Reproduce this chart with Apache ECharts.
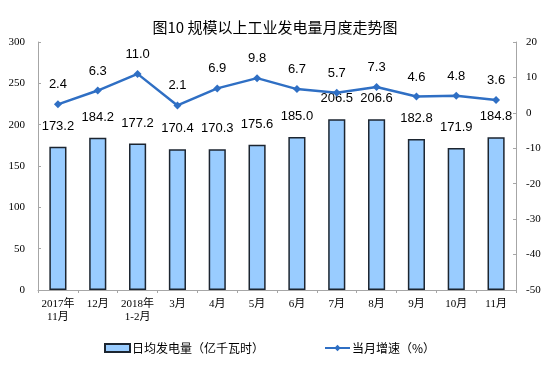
<!DOCTYPE html>
<html><head><meta charset="utf-8">
<script src="https://cdn.jsdelivr.net/npm/echarts@6/dist/echarts.min.js"></script>
<style>html,body{margin:0;padding:0;background:#fff}#c{width:554px;height:381px}</style>
</head><body><div id="c"></div>
<script>
var categories = ['2017年\n11月','12月','2018年\n1-2月','3月','4月','5月','6月','7月','8月','9月','10月','11月'];
var dailyOutput = [173.2,184.2,177.2,170.4,170.3,175.6,185.0,206.5,206.6,182.8,171.9,184.8];
var growth = [2.4,6.3,11.0,2.1,6.9,9.8,6.7,5.7,7.3,4.6,4.8,3.6];
var leftTicks = [0,50,100,150,200,250,300];
var rightTicks = [-50,-40,-30,-20,-10,0,10,20];

var chart = echarts.init(document.getElementById('c'), null, {renderer:'canvas'});
var serif = '"Liberation Serif","Noto Sans CJK SC",serif';
var sans = '"Liberation Sans","Noto Sans CJK SC",sans-serif';
chart.setOption({
  animation:false,
  backgroundColor:'#fff',
  title:{text:'图10 规模以上工业发电量月度走势图',left:270,textAlign:'center',top:15,
    textStyle:{fontSize:15,fontWeight:'normal',color:'#000',fontFamily:'"Noto Sans CJK SC",sans-serif'}},
  grid:{left:38,right:38,top:42,bottom:91},
  legend:{bottom:22,left:99,itemGap:60,itemWidth:25,itemHeight:8,
    textStyle:{fontSize:12,color:'#000',fontFamily:'"Noto Sans CJK SC",sans-serif',padding:[0,0,0,-3]},
    data:[{name:'日均发电量（亿千瓦时）',icon:'rect'},{name:'当月增速（%）'}]},
  xAxis:{type:'category',data:categories,
    axisLine:{lineStyle:{color:'#a6a6a6',width:1}},
    axisTick:{show:true,length:3,lineStyle:{color:'#a6a6a6'}},
    axisLabel:{fontSize:11,color:'#000',fontFamily:serif,margin:8,lineHeight:13,interval:0}},
  yAxis:[
    {type:'value',min:0,max:300,interval:50,splitLine:{show:false},
     axisLine:{show:true,lineStyle:{color:'#a6a6a6'}},
     axisTick:{show:true,inside:true,length:3,lineStyle:{color:'#a6a6a6'}},
     axisLabel:{fontSize:11,color:'#000',fontFamily:serif,margin:13}},
    {type:'value',min:-50,max:20,interval:10,splitLine:{show:false},
     axisLine:{show:true,lineStyle:{color:'#a6a6a6'}},
     axisTick:{show:true,inside:true,length:3,lineStyle:{color:'#a6a6a6'}},
     axisLabel:{fontSize:11,color:'#000',fontFamily:serif,margin:10}}
  ],
  series:[
    {name:'日均发电量（亿千瓦时）',type:'bar',data:dailyOutput,barWidth:'43%',yAxisIndex:0,
     itemStyle:{color:'#99ccff',borderColor:'#1c2530',borderWidth:1.5},
     label:{show:true,position:'top',distance:14,fontSize:13,color:'#000',fontFamily:sans,
       formatter:function(p){return p.value.toFixed(1);}}},
    {name:'当月增速（%）',type:'line',data:growth,yAxisIndex:1,
     symbol:'diamond',symbolSize:8,
     lineStyle:{color:'#2f6fc4',width:2.5},itemStyle:{color:'#2f6fc4'},
     label:{show:true,position:'top',distance:9,fontSize:13,color:'#000',fontFamily:sans,
       formatter:function(p){return p.value.toFixed(1);}}}
  ]
});
</script></body></html>
